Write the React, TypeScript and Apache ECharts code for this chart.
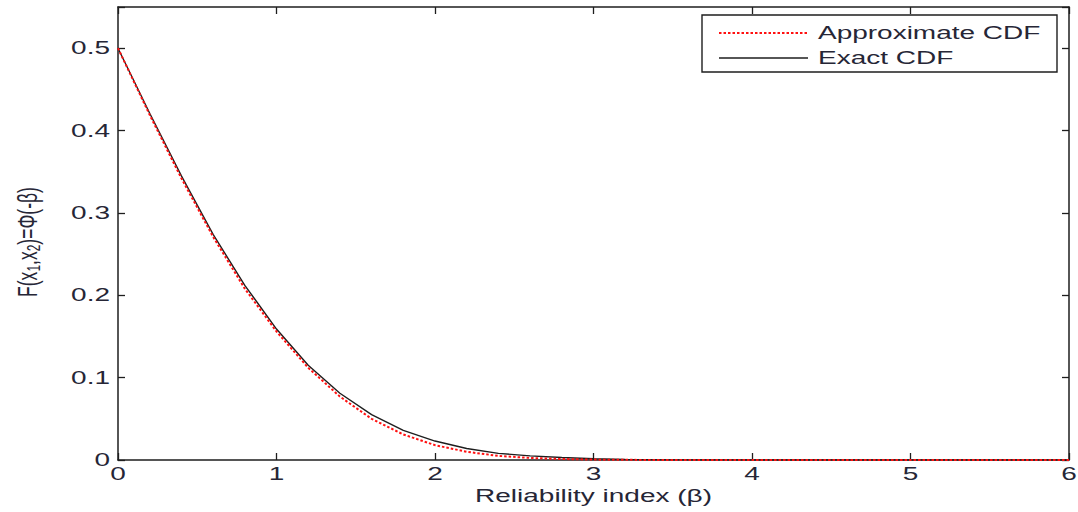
import React, { useEffect, useRef } from "react";
import * as echarts from "echarts";

const betaValues = [0, 0.2, 0.4, 0.6, 0.8, 1.0, 1.2, 1.4, 1.6, 1.8, 2.0, 2.2, 2.4, 2.6, 2.8, 3.0, 3.2, 3.5, 4.0, 4.5, 5.0, 5.5, 6.0];
const exactCdf = [0.5, 0.421, 0.345, 0.274, 0.212, 0.159, 0.115, 0.081, 0.055, 0.036, 0.023, 0.014, 0.008, 0.005, 0.003, 0.0015, 0.0007, 0.0002, 0, 0, 0, 0, 0];
const approxCdf = [0.5, 0.419, 0.342, 0.271, 0.208, 0.156, 0.112, 0.077, 0.050, 0.031, 0.018, 0.010, 0.005, 0.0025, 0.0012, 0.0005, 0.0002, 0, 0, 0, 0, 0, 0];
const xTicks = [0, 1, 2, 3, 4, 5, 6];
const yTicks = [0, 0.1, 0.2, 0.3, 0.4, 0.5];
const xTickLabels = ["0", "1", "2", "3", "4", "5", "6"];
const yTickLabels = ["0", "0.1", "0.2", "0.3", "0.4", "0.5"];
const legendNames = ["Approximate CDF", "Exact CDF"];
const xAxisTitle = "Reliability index (β)";

const FONT = "Liberation Sans, Arial, sans-serif";
const TXT = "#262636";
const STRETCH = 1.6;
const FS = 17.5;

export default function App() {
  const ref = useRef<HTMLDivElement>(null);
  useEffect(() => {
    if (!ref.current) return;
    const chart = echarts.init(ref.current, undefined, { renderer: "svg" });
    const pairs = (ys: number[]) => betaValues.map((b, i) => [b, ys[i]]);
    const axisCommon = {
      type: "value" as const,
      axisLine: { show: true, onZero: false, lineStyle: { color: "#1e1e1e", width: 1.5 } },
      axisTick: { show: true, inside: true, length: 7, lineStyle: { color: "#1e1e1e", width: 1.3 } },
      axisLabel: { show: false },
      splitLine: { show: false },
    };
    chart.setOption({
      animation: false,
      backgroundColor: "#fff",
      grid: { left: 118, right: 9, top: 7, bottom: 52 },
      xAxis: [
        { ...axisCommon, min: xTicks[0], max: xTicks[xTicks.length - 1], interval: 1 },
        { ...axisCommon, position: "top", min: xTicks[0], max: xTicks[xTicks.length - 1], interval: 1 },
      ],
      yAxis: [
        { ...axisCommon, min: 0, max: 0.55, interval: 0.1 },
        { ...axisCommon, position: "right", min: 0, max: 0.55, interval: 0.1 },
      ],
      series: [
        {
          name: legendNames[1],
          type: "line",
          data: pairs(exactCdf),
          showSymbol: false,
          lineStyle: { color: "#1e1e1e", width: 1.4 },
          z: 2,
        },
        {
          name: legendNames[0],
          type: "line",
          data: pairs(approxCdf),
          showSymbol: false,
          lineStyle: { color: "#ff1010", width: 2, type: [2.5, 2] },
          z: 3,
        },
      ],
    });

    const x0 = chart.convertToPixel({ xAxisIndex: 0 }, xTicks[0]) as number;
    const y0 = chart.convertToPixel({ yAxisIndex: 0 }, 0) as number;
    const textStyle = (text: string, align: string) => ({
      text,
      fill: TXT,
      font: `${FS}px ${FONT}`,
      align,
      verticalAlign: "middle",
    });
    const graphics: any[] = [];
    xTicks.forEach((t, i) => {
      graphics.push({
        type: "text",
        x: chart.convertToPixel({ xAxisIndex: 0 }, t) as number,
        y: y0 + 14,
        scaleX: STRETCH,
        style: textStyle(xTickLabels[i], "center"),
        z: 11,
      });
    });
    yTicks.forEach((t, i) => {
      graphics.push({
        type: "text",
        x: x0 - 8,
        y: chart.convertToPixel({ yAxisIndex: 0 }, t) as number,
        scaleX: STRETCH,
        style: textStyle(yTickLabels[i], "right"),
        z: 11,
      });
    });
    graphics.push({
      type: "text",
      x: chart.convertToPixel({ xAxisIndex: 0 }, 3) as number,
      y: y0 + 36,
      scaleX: STRETCH,
      style: textStyle(xAxisTitle, "center"),
      z: 11,
    });
    graphics.push(
      {
        type: "rect",
        shape: { x: 702, y: 15, width: 355, height: 57 },
        style: { fill: "#fff", stroke: "#1e1e1e", lineWidth: 1.4 },
        z: 10,
      },
      {
        type: "line",
        shape: { x1: 719, y1: 33, x2: 808, y2: 33 },
        style: { stroke: "#ff1010", lineWidth: 2, lineDash: [2.5, 2] },
        z: 11,
      },
      {
        type: "line",
        shape: { x1: 719, y1: 58, x2: 808, y2: 58 },
        style: { stroke: "#1e1e1e", lineWidth: 1.4 },
        z: 11,
      },
      {
        type: "text",
        x: 818,
        y: 33,
        scaleX: STRETCH,
        style: textStyle(legendNames[0], "left"),
        z: 11,
      },
      {
        type: "text",
        x: 818,
        y: 58,
        scaleX: STRETCH,
        style: textStyle(legendNames[1], "left"),
        z: 11,
      },
      {
        type: "text",
        x: 27,
        y: 242,
        rotation: Math.PI / 2,
        scaleY: STRETCH,
        style: {
          text: "F(x{s|1},x{s|2})=Φ(-β)",
          fill: TXT,
          font: `${FS}px ${FONT}`,
          align: "center",
          verticalAlign: "middle",
          rich: { s: { fontSize: 12, fontFamily: FONT, fill: TXT, padding: [8, 0, 0, 0] } },
        },
        z: 11,
      }
    );
    chart.setOption({ graphic: graphics });
    return () => chart.dispose();
  }, []);
  return <div ref={ref} style={{ position: "fixed", left: 0, top: 0, width: 1078, height: 512 }} />;
}
